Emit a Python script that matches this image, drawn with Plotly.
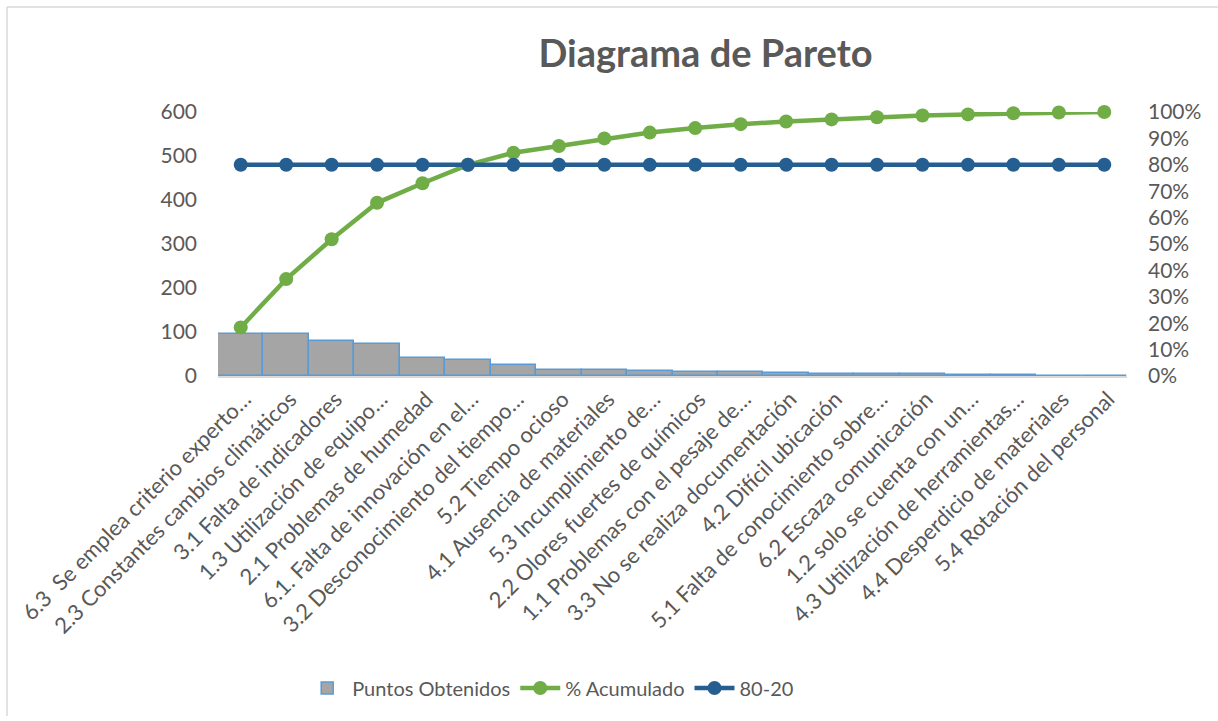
import plotly.graph_objects as go

categories = [
    "6.3\u00a0 Se emplea criterio experto…",
    "2.3 Constantes cambios climáticos",
    "3.1 Falta de indicadores",
    "1.3 Utilización de equipo…",
    "2.1 Problemas de humedad",
    "6.1. Falta de innovación en el…",
    "3.2 Desconocimiento del tiempo…",
    "5.2 Tiempo ocioso",
    "4.1 Ausencia de materiales",
    "5.3 Incumplimiento de…",
    "2.2 Olores fuertes de químicos",
    "1.1 Problemas con el pesaje de…",
    "3.3 No se realiza documentación",
    "4.2 Difícil ubicación",
    "5.1 Falta de conocimiento sobre…",
    "6.2 Escaza comunicación",
    "1.2 solo se cuenta con un…",
    "4.3 Utilización de herramientas…",
    "4.4 Desperdicio de materiales",
    "5.4 Rotación del personal",
]
puntos = [96, 96, 79, 72, 40, 36, 24, 14, 14, 11, 9, 8, 6, 4, 4, 4, 2, 2, 1, 1]
acumulado = [0.184, 0.367, 0.518, 0.656, 0.73, 0.80, 0.846, 0.871, 0.90, 0.922,
             0.939, 0.954, 0.964, 0.972, 0.98, 0.987, 0.991, 0.995, 0.998, 1.0]
regla_80_20 = [0.8] * 20

FONT = "Lato"
GRAY = "#595959"
W, H = 1218, 721
L, R, T, B = 218, 91, 112, 345

fig = go.Figure()
fig.add_trace(go.Bar(
    x=categories, y=puntos, name="Puntos Obtenidos",
    marker=dict(color="#a5a5a5", line=dict(color="#5b9bd5", width=1.5)),
))
fig.add_trace(go.Scatter(
    x=categories, y=acumulado, name="% Acumulado", yaxis="y2",
    mode="lines+markers", cliponaxis=False,
    line=dict(color="#70ad47", width=4.5),
    marker=dict(color="#70ad47", size=14),
))
fig.add_trace(go.Scatter(
    x=categories, y=regla_80_20, name="80-20", yaxis="y2",
    mode="lines+markers", cliponaxis=False,
    line=dict(color="#255e91", width=4.5),
    marker=dict(color="#255e91", size=14),
))

ph = H - T - B
pw = W - L - R
top_y = (H - B - 7) / ph
left_x = (7 - L) / pw
bottom_y = (H - B - 716) / ph

fig.update_layout(
    width=W, height=H,
    margin=dict(l=L, r=R, t=T, b=B, pad=0),
    paper_bgcolor="white", plot_bgcolor="white",
    bargap=0,
    font=dict(family=FONT, color=GRAY, size=19),
    title=dict(
        text="<b>Diagrama de Pareto</b>",
        font=dict(family=FONT, size=38, color=GRAY),
        x=705.5 / W, xref="container", xanchor="center",
        y=1 - 54 / H, yref="container", yanchor="middle",
    ),
    xaxis=dict(
        tickangle=-45, tickfont=dict(size=22, color=GRAY),
        showline=True, linecolor="#d9d9d9", linewidth=1.5,
        showgrid=False, ticks="", range=[-0.5, 19.5],
        ticklabelshift=4,
    ),
    yaxis=dict(
        range=[0, 600], dtick=100, showgrid=False, zeroline=False,
        showline=False, ticks="", tickfont=dict(size=21, color=GRAY),
        ticklabelstandoff=20,
    ),
    yaxis2=dict(
        range=[0, 1], dtick=0.1, tickformat=".0%", overlaying="y", side="right",
        showgrid=False, zeroline=False, showline=False, ticks="",
        tickfont=dict(size=21, color=GRAY), ticklabelstandoff=20,
    ),
    legend=dict(
        orientation="h", x=0.366, xanchor="center",
        y=(376 - 688) / 264, yanchor="middle",
        font=dict(size=20, color=GRAY), traceorder="normal",
        itemwidth=40,
    ),
)

# chart border (left and top edges), in paper coordinates
fig.add_shape(type="line", xref="paper", yref="paper",
              x0=left_x, x1=(W - L) / pw, y0=top_y, y1=top_y,
              line=dict(color="#d9d9d9", width=1.5))
fig.add_shape(type="line", xref="paper", yref="paper",
              x0=left_x, x1=left_x, y0=top_y, y1=bottom_y,
              line=dict(color="#d9d9d9", width=1.5))

fig.write_html("out.html")
